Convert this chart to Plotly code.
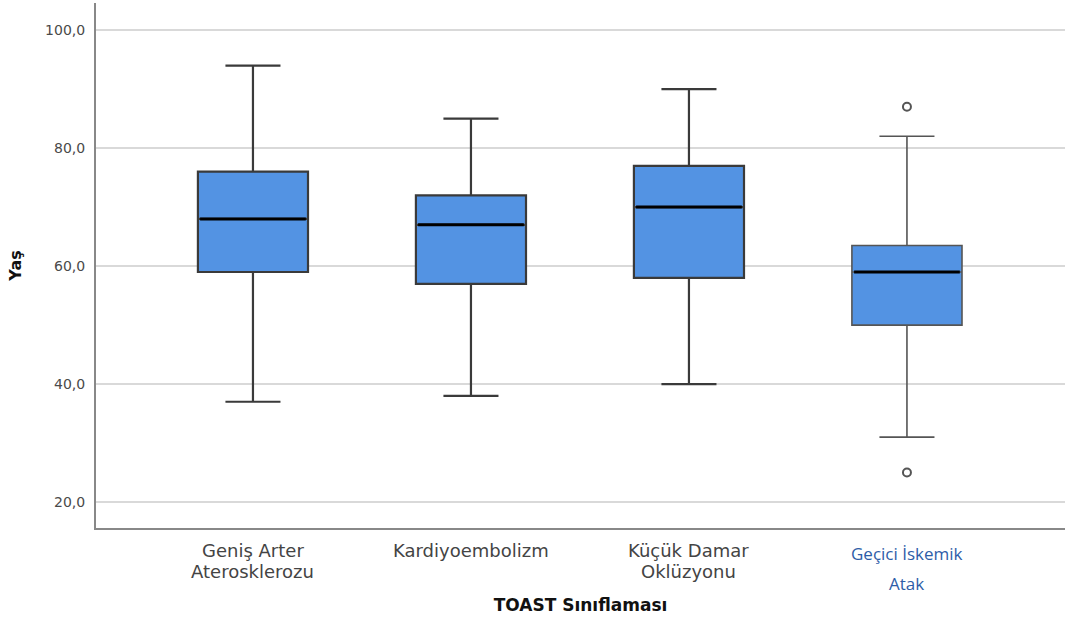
import plotly.graph_objects as go

categories = ["Geniş Arter<br>Aterosklerozu", "Kardiyoembolizm", "Küçük Damar<br>Oklüzyonu", "Geçici İskemik<br>Atak"]
lower = [37, 38, 40, 31]
q1 = [59, 57, 58, 50]
median = [68, 67, 70, 59]
q3 = [76, 72, 77, 63.5]
upper = [94, 85, 90, 82]
outlier_cat = [3, 3]
outlier_val = [87, 25]
y_ticks = [20, 40, 60, 80, 100]
y_tick_labels = ["20,0", "40,0", "60,0", "80,0", "100,0"]

BOX_W = 0.505
fig = go.Figure()
for i, c in enumerate(categories):
    thin = (i == 3)
    fig.add_trace(go.Box(
        x=[i], q1=[q1[i]], median=[median[i]], q3=[q3[i]],
        lowerfence=[lower[i]], upperfence=[upper[i]],
        width=BOX_W, whiskerwidth=0.5,
        fillcolor="#5393E3",
        line=dict(color="#555555" if thin else "#3a3a3a", width=1.6 if thin else 2.2),
        boxpoints=False, hoverinfo="skip", showlegend=False,
    ))
    fig.add_trace(go.Scatter(
        x=[i - BOX_W / 2 + 0.01, i + BOX_W / 2 - 0.01], y=[median[i], median[i]],
        mode="lines", line=dict(color="#000000", width=3), showlegend=False, hoverinfo="skip",
    ))

fig.add_trace(go.Scatter(
    x=outlier_cat, y=outlier_val, mode="markers",
    marker=dict(symbol="circle-open", size=8, color="#555555", line=dict(width=2)),
    showlegend=False, hoverinfo="skip",
))

# category labels, one annotation per line
for i, c in enumerate(categories):
    lines = c.split("<br>")
    for j, ln in enumerate(lines):
        if i == 3:
            fig.add_annotation(x=i, y=0, xref="x", yref="paper", yshift=-25 - 30 * j, text=ln,
                               showarrow=False, yanchor="middle",
                               font=dict(family="Open Sans, Liberation Sans, Arial", size=17, color="#2E5DA8"))
        else:
            fig.add_annotation(x=i, y=0, xref="x", yref="paper", yshift=-22 - 21 * j, text=ln,
                               showarrow=False, yanchor="middle",
                               font=dict(family="DejaVu Sans, Arial", size=18, color="#444444"))

fig.update_layout(
    width=1069, height=630,
    margin=dict(l=96, r=4, t=3, b=102),
    paper_bgcolor="white", plot_bgcolor="white",
    font=dict(family="DejaVu Sans, Arial", color="#444444"),
    xaxis=dict(range=[-0.72, 3.725], showticklabels=False, showgrid=False, zeroline=False,
               showline=True, linecolor="#888888", linewidth=2, ticks="",
               title=dict(text="<b>TOAST Sınıflaması</b>", font=dict(size=17, color="#111111"), standoff=70)),
    yaxis=dict(range=[15.6, 104.6], tickvals=y_ticks, ticktext=y_tick_labels,
               showgrid=True, gridcolor="#d9d9d9", gridwidth=2, zeroline=False,
               showline=True, linecolor="#888888", linewidth=2, ticks="",
               ticklabelstandoff=6,
               tickfont=dict(size=14, color="#4a4a4a"),
               title=dict(text="<b>Yaş</b>", font=dict(size=16, color="#111111"), standoff=20)),
)

fig.write_html("out.html", config={"displayModeBar": False},
               post_script="document.body.style.margin='0';")
